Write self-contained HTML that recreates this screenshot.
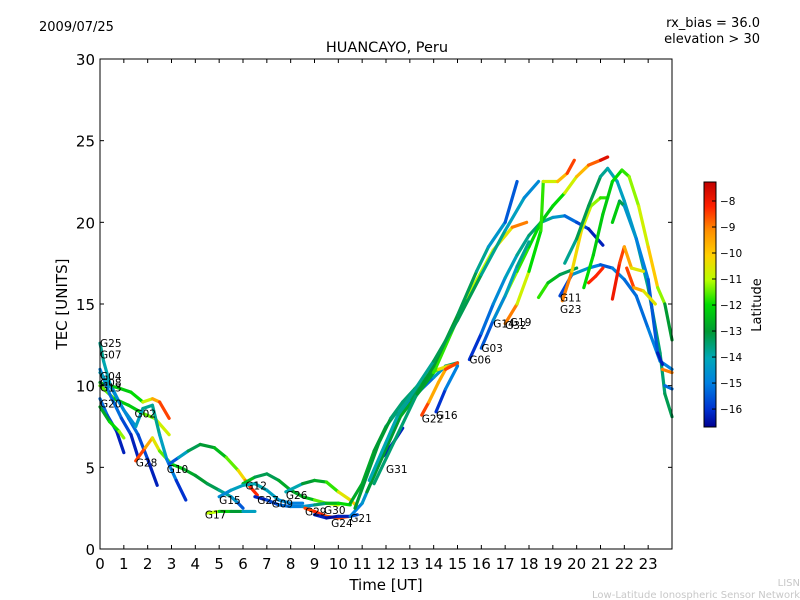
<!DOCTYPE html>
<html><head><meta charset="utf-8"><style>
body{margin:0;background:#fff}
svg{display:block;font-family:"DejaVu Sans","Liberation Sans",sans-serif}
</style></head><body>
<svg id="chart" width="800" height="600" viewBox="0 0 800 600">
<defs>
<linearGradient id="cbg" x1="0" y1="1" x2="0" y2="0">
<stop offset="0" stop-color="#000090"/>
<stop offset="0.07" stop-color="#0030d0"/>
<stop offset="0.18" stop-color="#0080e0"/>
<stop offset="0.28" stop-color="#00a8b8"/>
<stop offset="0.39" stop-color="#009933"/>
<stop offset="0.50" stop-color="#00dd00"/>
<stop offset="0.60" stop-color="#b8ff00"/>
<stop offset="0.70" stop-color="#ffd000"/>
<stop offset="0.80" stop-color="#ff9000"/>
<stop offset="0.90" stop-color="#ff2000"/>
<stop offset="1" stop-color="#c00000"/>
</linearGradient>
</defs>
<g id="marks"></g>
<g id="axes"></g>
<text x="387" y="52" font-size="14.5" text-anchor="middle">HUANCAYO, Peru</text>
<text x="386" y="590" font-size="15" text-anchor="middle">Time [UT]</text>
<text x="67" y="304" font-size="15" text-anchor="middle" transform="rotate(-90 67 304)">TEC [UNITS]</text>
<text x="761" y="305" font-size="13" text-anchor="middle" transform="rotate(-90 761 305)">Latitude</text>
<text x="39" y="31" font-size="13">2009/07/25</text>
<text x="760" y="27" font-size="13" text-anchor="end">rx_bias = 36.0</text>
<text x="760" y="43" font-size="13" text-anchor="end">elevation &gt; 30</text>
<text x="800" y="586" font-size="10" text-anchor="end" fill="#c8c8c8">LISN</text>
<text x="800" y="598" font-size="10" text-anchor="end" fill="#c8c8c8">Low-Latitude Ionospheric Sensor Network</text>
</svg>
<script>
const xTicks=[0,1,2,3,4,5,6,7,8,9,10,11,12,13,14,15,16,17,18,19,20,21,22,23];
const yTicks=[0,5,10,15,20,25,30];
const cbTicks=[-8,-9,-10,-11,-12,-13,-14,-15,-16];
// tracks: [time, tec, latitude]
const trk01=[[0,12.6,-13.5],[0.15,11.5,-14],[0.4,10.2,-14],[0.8,9,-14.5],[1.2,8,-15],[1.6,7,-15.5],[2.0,5.5,-16],[2.4,3.9,-16.5]];
const trk02=[[0,10.2,-13],[0.3,10,-12.5],[0.7,9.9,-12],[1.3,9.6,-12.5],[1.8,9.0,-11.5],[2.2,9.2,-10],[2.5,9.0,-9],[2.9,8.0,-8]];
const trk03=[[0,10.0,-11],[0.6,9.2,-12],[1.2,8.8,-12.5],[1.8,8.3,-12],[2.3,8.0,-11],[2.9,7.0,-10.5]];
const trk04=[[0,11,-15],[0.4,9.5,-15],[0.9,8,-15.5],[1.3,7,-16],[1.6,5.6,-16.5]];
const trk05=[[1.5,5.4,-8],[1.9,6.2,-9],[2.2,6.8,-10],[2.5,6.0,-11],[3.0,5.2,-12],[3.5,4.9,-12.5],[4.0,4.5,-13],[4.5,4.0,-13],[5.0,3.6,-13.5],[5.5,3.2,-14],[5.8,2.8,-15],[6.0,2.5,-16]];
const trk06=[[0,9.2,-15],[0.3,8.2,-15.5],[0.7,7.2,-16],[1.0,5.9,-16.5]];
const trk07=[[0,8.7,-13],[0.4,7.8,-12.5],[0.8,7.2,-11.5],[1.0,6.8,-11]];
const trk08=[[0,10.8,-14],[0.5,9.8,-14.5],[1.0,8.5,-15],[1.5,7.5,-14.5],[1.8,8.6,-14],[2.2,8.8,-13.5],[2.5,7,-14],[2.8,5.5,-14.5],[3.2,4.2,-15.5],[3.6,3.0,-16.5]];
const trk09=[[2.9,5.2,-16],[3.3,5.6,-15],[3.7,6.0,-13.5],[4.2,6.4,-13],[4.8,6.2,-13],[5.3,5.6,-12],[5.8,4.8,-11],[6.1,4.2,-9.5],[6.3,3.8,-8.5],[6.6,3.3,-8]];
const trk10=[[6.0,4.0,-12],[6.5,4.4,-13],[7.0,4.6,-13.5],[7.5,4.2,-13],[8.0,3.6,-12.5],[8.5,3.2,-13],[9.0,3.0,-12],[9.5,2.8,-11],[10,2.7,-11]];
const trk11=[[7.8,3.5,-15],[8.5,4.0,-13],[9.0,4.2,-13],[9.5,4.1,-12.5],[10.0,3.5,-11],[10.5,3.0,-10],[10.8,2.6,-10]];
const trk12=[[5.0,3.2,-15],[5.5,3.6,-14.5],[6.0,3.9,-14],[6.5,4.0,-14],[7.0,3.6,-14],[7.5,3.0,-14.5],[8.0,2.8,-15],[8.5,2.8,-15]];
const trk13=[[6.5,3.2,-16.5],[7.0,3.0,-16],[7.5,2.7,-15.5],[8.0,2.6,-15],[8.5,2.6,-15],[9.0,2.7,-14],[9.5,2.8,-13],[10,2.8,-12],[10.5,2.7,-12]];
const trk14=[[4.5,2.2,-10],[5.0,2.3,-12],[5.5,2.3,-12.5],[6.0,2.3,-13.5],[6.5,2.3,-15]];
const trk15=[[8.6,2.5,-9],[9.0,2.3,-8],[9.5,2.0,-8.5],[10.0,1.9,-9],[10.5,2.0,-8]];
const trk16=[[9.0,2.1,-16],[9.5,1.9,-16.5],[10,2.0,-16.5],[10.5,2.0,-16],[10.8,2.1,-15]];
const trk17=[[10.5,2.0,-15],[11,2.8,-15],[11.5,4.5,-14],[12,6.5,-14.5],[12.5,8,-15],[13,9,-15],[13.5,9.8,-15.5],[14,10.5,-15],[14.5,11.2,-14],[15,11.4,-13]];
const trk18=[[10.5,2.8,-13],[11,4,-12.5],[11.5,6,-13],[12,7.5,-13],[12.5,8.5,-14],[13,9.2,-14.5],[13.5,10,-12],[14,11,-11],[14.3,11.8,-9]];
const trk19=[[10.7,2.5,-13],[11.2,4.5,-13],[11.7,6.5,-13],[12.2,8,-13],[12.7,9,-14],[13.2,9.8,-13],[13.7,10.6,-12],[14.2,11,-11],[14.6,11.2,-10],[15,11.3,-9]];
const trk20=[[11.9,5.7,-16.5],[12.3,6.5,-16],[12.7,7.4,-16.5]];
const trk21=[[13.5,8.2,-8],[13.8,9.0,-9],[14.2,10.2,-10],[14.5,11.0,-9],[15,11.4,-8]];
const trk22=[[15.5,11.6,-16.5],[16,13.2,-15.5],[16.5,15.0,-15],[17,16.6,-14.5],[17.5,18.0,-14],[18,19.2,-13.5],[18.5,20.0,-13.5],[19,20.3,-14],[19.5,20.4,-15],[20,20,-15.5],[20.5,19.6,-16],[21.1,18.6,-16.5]];
const trk23=[[11.2,3.5,-13],[12.6,8.1,-13],[14,10.8,-12.5],[15.4,15.4,-11],[16.5,18.3,-11],[17.3,19.7,-10],[17.9,20,-8]];
const trk24=[[11.5,4,-14],[13.3,9.5,-13],[14,11.2,-13],[15,14.3,-13],[15.8,17,-13.5],[16.3,18.5,-14],[17,20,-15],[17.5,22.5,-16]];
const trk25=[[11.3,4.2,-14],[12.5,8.2,-14],[14,11.5,-13.5],[15,14,-13],[16,16.8,-13.5],[17,19.5,-14],[17.8,21.5,-14.5],[18.4,22.5,-15]];
const trk26=[[16.5,14,-10],[17,15.5,-11],[17.5,17,-11.5],[18,18.5,-12],[18.5,20,-12],[19,21,-12.5],[19.5,21.8,-11.5],[20,22.8,-10],[20.5,23.5,-9.5],[21,23.8,-8],[21.3,24,-7.5]];
const trk27=[[17,13.8,-8],[17.5,15,-10],[18,17,-11.5],[18.5,19.5,-12.5],[18.6,22.5,-11],[19.2,22.5,-10.5],[19.6,23,-9],[19.9,23.8,-8]];
const trk28=[[19.3,15.5,-16.5],[19.8,16.8,-15],[20.5,17.2,-14],[21,17.4,-16],[21.5,17.2,-15],[22,16.5,-15],[22.5,15.5,-15.5],[23,13.5,-15],[23.5,11.5,-15],[24,11,-15]];
const trk29=[[18.4,15.4,-11.5],[18.8,16.3,-12],[19.3,16.8,-13],[20,17.2,-13.5]];
const trk30=[[19.4,15.2,-8],[19.8,17,-10],[20.2,19.5,-10.5],[20.6,21,-11],[21.0,21.5,-11.5],[21.3,21.5,-12]];
const trk31=[[19.5,17.5,-14],[20,19,-13.5],[20.5,21,-13],[21,22.8,-13.5],[21.3,23.3,-14],[21.7,22.5,-14],[22,21.3,-14.5],[22.5,19,-14],[23,16,-13.5],[23.5,12,-13.5],[23.7,9.5,-13.5],[24,8.1,-13]];
const trk32=[[20.3,16,-12],[20.7,18,-12],[21.1,20.5,-12.5],[21.5,22.5,-12],[21.9,23.2,-12],[22.2,22.8,-11.5],[22.6,21,-11],[23,18.5,-10.5],[23.4,16,-9.5],[23.7,15,-13],[24,12.8,-13]];
const trk33=[[21.5,20,-12],[21.8,21.3,-12.5],[22,21,-14],[22.5,19,-15],[23,16.5,-15],[23.4,12,-16],[23.6,11.3,-16.5]];
const trk34=[[20.5,16.3,-8],[20.8,16.7,-8.5],[21.1,17.2,-8]];
const trk35=[[21.5,15.3,-8],[21.8,17.5,-8],[22.0,18.5,-9],[22.3,17.2,-10],[22.8,17,-11]];
const trk36=[[22.1,17.2,-8],[22.4,16,-9],[22.8,15.8,-10],[23.3,15.0,-11]];
const trk37=[[23.6,11,-8.5],[24,10.8,-9.5]];
const trk38=[[23.7,10,-15],[24,9.8,-15.5]];
const trk39=[[14.1,8.4,-16.5],[14.5,9.8,-15.5],[15,11.2,-14.5]];
const trk40=[[16.0,12.3,-16],[16.5,14,-15],[17,15.5,-14.5],[17.5,17.3,-14],[18,18.8,-13.5]];
const tracks=[trk01,trk02,trk03,trk04,trk05,trk06,trk07,trk08,trk09,trk10,trk11,trk12,trk13,trk14,trk15,trk16,trk17,trk18,trk19,trk20,trk21,trk22,trk23,trk24,trk25,trk26,trk27,trk28,trk29,trk30,trk31,trk32,trk33,trk34,trk35,trk36,trk37,trk38,trk39,trk40];
const satNames=["G25","G07","G04","G08","G13","G20","G02","G28","G10","G15","G17","G12","G27","G09","G26","G29","G30","G24","G21","G31","G22","G16","G06","G03","G14","G32","G19","G11","G23"];
const satT=[0,0,0,0,0,0,1.45,1.5,2.8,5.0,4.4,6.1,6.6,7.2,7.8,8.6,9.4,9.7,10.5,12.0,13.5,14.1,15.5,16.0,16.5,17.0,17.2,19.3,19.3];
const satTec=[12.6,11.9,10.6,10.2,9.9,8.9,8.3,5.3,4.9,3.0,2.1,3.9,3.0,2.8,3.3,2.3,2.4,1.6,1.9,4.9,8.0,8.2,11.6,12.3,13.8,13.7,13.9,15.4,14.7];

const X0=100,X1=672,Y0=549,Y1=59;
const xs=t=>X0+t*(X1-X0)/24;
const ys=v=>Y0-v*(Y0-Y1)/30;
const CB0=-16.69,CB1=-7.27,CBY0=427,CBY1=182;
const cbs=l=>CBY0-(l-CB0)*(CBY0-CBY1)/(CB1-CB0);
const stops=[[0,[0,0,144]],[0.07,[0,48,208]],[0.18,[0,128,224]],[0.28,[0,168,184]],[0.39,[0,153,51]],[0.5,[0,221,0]],[0.6,[184,255,0]],[0.7,[255,208,0]],[0.8,[255,144,0]],[0.9,[255,32,0]],[1,[192,0,0]]];
function col(l){let f=(l-CB0)/(CB1-CB0);f=Math.max(0,Math.min(1,f));
 for(let i=1;i<stops.length;i++){if(f<=stops[i][0]){const a=stops[i-1],b=stops[i];const k=(f-a[0])/(b[0]-a[0]);
 const c=a[1].map((v,j)=>Math.round(v+(b[1][j]-v)*k));return `rgb(${c[0]},${c[1]},${c[2]})`;}}return 'rgb(192,0,0)';}
const NS='http://www.w3.org/2000/svg';
function mk(tag,attrs,parent,text){const e=document.createElementNS(NS,tag);for(const k in attrs)e.setAttribute(k,attrs[k]);if(text!==undefined)e.textContent=text;parent.appendChild(e);return e;}
const marks=document.getElementById('marks'),axes=document.getElementById('axes');
tracks.forEach((tr,ti)=>{
 const g=mk('g',{},marks);
 
 
 for(let i=0;i<tr.length-1;i++){
  const a=tr[i],b=tr[i+1];
  const seg=mk('line',{x1:xs(a[0]),y1:ys(a[1]),x2:xs(b[0]),y2:ys(b[1]),stroke:col((a[2]+b[2])/2),'stroke-width':3.2,'stroke-linecap':'round'},g);
  
  
 }
});
satNames.forEach((n,i)=>{
 const t=mk('text',{x:xs(satT[i]),y:ys(satTec[i])+4,'font-size':10.5,fill:'#000'},marks,n);
 
 
});
const fr=mk('rect',{x:X0,y:Y1,width:X1-X0,height:Y0-Y1,fill:'none',stroke:'#000','stroke-width':1},axes);


xTicks.forEach(v=>{const x=xs(v);
 mk('line',{x1:x,y1:Y0,x2:x,y2:Y0-4,stroke:'#000'},axes);
 mk('line',{x1:x,y1:Y1,x2:x,y2:Y1+4,stroke:'#000'},axes);
 const t=mk('text',{x:x,y:Y0+20,'font-size':15,'text-anchor':'middle'},axes,String(v));
 
 
});
yTicks.forEach(v=>{const y=ys(v);
 mk('line',{x1:X0,y1:y,x2:X0+4,y2:y,stroke:'#000'},axes);
 mk('line',{x1:X1,y1:y,x2:X1-4,y2:y,stroke:'#000'},axes);
 const t=mk('text',{x:X0-5,y:y+6,'font-size':15,'text-anchor':'end'},axes,String(v));
 
 
});
const cb=mk('rect',{x:704,y:CBY1,width:12,height:CBY0-CBY1,fill:'url(#cbg)',stroke:'#000','stroke-width':1},axes);


cbTicks.forEach(v=>{const y=cbs(v);
 mk('line',{x1:716,y1:y,x2:712,y2:y,stroke:'#000'},axes);
 const t=mk('text',{x:720,y:y+4,'font-size':10.5},axes,'\u2212'+String(-v));
 
 
});
</script>
</body></html>
